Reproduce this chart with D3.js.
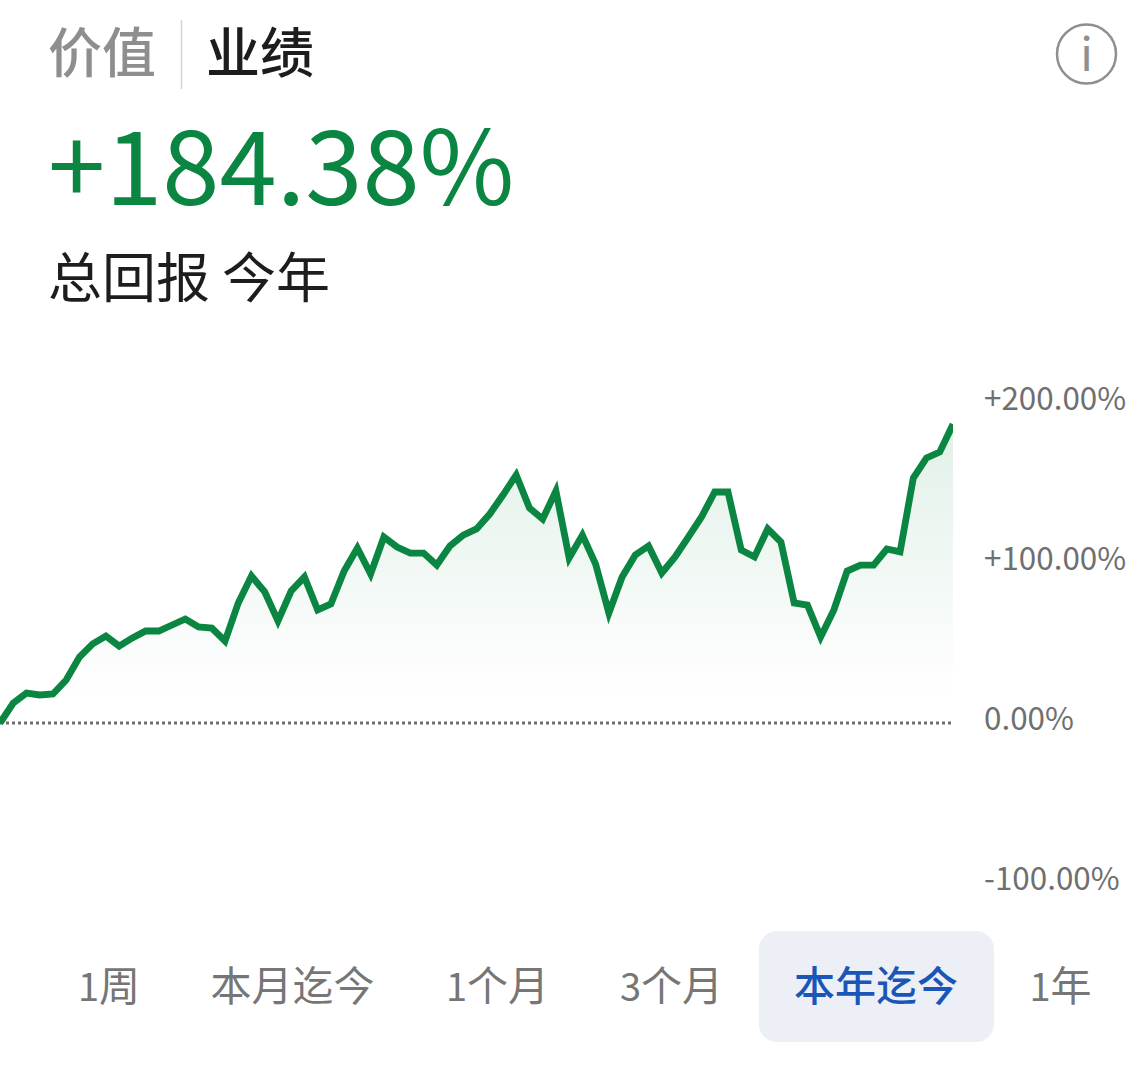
<!DOCTYPE html>
<html>
<head>
<meta charset="utf-8">
<script src="https://d3js.org/d3.v7.min.js"></script>
<style>
  html, body { margin: 0; padding: 0; background: #fff; }
  svg { display: block; }
  text { font-family: "Noto Sans CJK SC", sans-serif; }
</style>
</head>
<body>
<div id="chart"></div>
<script>
// total return per period, in percent
var returns = [0, 12.3, 18.5, 17.3, 17.9, 26.5, 40.7, 48.8, 53.7, 47.5, 52.5, 56.8, 56.8, 60.5, 64.2, 59.3, 58.6, 50.6,
  74.1, 90.7, 80.9, 63.0, 81.5, 90.1, 69.8, 73.5, 93.8, 108.0, 92.0, 114.8, 108.6, 104.9, 104.9, 97.5, 109.3, 116.0,
  119.8, 129.0, 140.7, 153.1, 132.7, 125.9, 143.2, 101.9, 116.0, 98.1, 67.9, 90.1, 103.7, 109.3, 92.6, 102.5, 114.8,
  127.2, 142.6, 142.6, 106.8, 102.5, 119.8, 111.7, 74.1, 72.8, 53.1, 69.8, 93.8, 97.5, 97.5, 107.4, 105.6, 151.2,
  163.6, 167.3, 184.38];
var yTicks = [200, 100, 0, -100];
var tabs = ["1周", "本月迄今", "1个月", "3个月", "本年迄今", "1年"];
var activeTab = "本年迄今";
var headerTabs = ["价值", "业绩"];
var totalReturn = "+184.38%";
var subtitle = "总回报 今年";

var w = 1126, h = 1078;
var green = "#0a8542";

var svg = d3.select("#chart").append("svg")
  .attr("width", w)
  .attr("height", h);

// header
svg.append("text").attr("x", 48).attr("y", 73)
  .attr("font-size", 54).attr("font-weight", 500).attr("fill", "#8e8e8e")
  .text(headerTabs[0]);
svg.append("line")
  .attr("x1", 181.5).attr("x2", 181.5).attr("y1", 20).attr("y2", 89)
  .attr("stroke", "#d4d4d4").attr("stroke-width", 1.5);
svg.append("text").attr("x", 206).attr("y", 73)
  .attr("font-size", 54).attr("font-weight", 500).attr("fill", "#1d1d1d")
  .text(headerTabs[1]);

// info icon
svg.append("circle")
  .attr("cx", 1086.5).attr("cy", 54).attr("r", 29.5)
  .attr("fill", "none").attr("stroke", "#8f8f8f").attr("stroke-width", 2.5);
svg.append("text").attr("x", 1086.5).attr("y", 71)
  .attr("text-anchor", "middle").attr("font-size", 46).attr("fill", "#8f8f8f")
  .text("i");

svg.append("text").attr("x", 48).attr("y", 205)
  .attr("font-size", 103).attr("fill", green)
  .text(totalReturn);
svg.append("text").attr("x", 48).attr("y", 298)
  .attr("font-size", 54).attr("fill", "#1d1d1d")
  .text(subtitle);

// chart
var x = d3.scaleLinear().domain([0, returns.length - 1]).range([0, 953]);
var y = d3.scaleLinear().domain([0, 200]).range([723, 399]);
// the labels in the picture sit on a slightly tighter scale than the line
var yLabels = d3.scaleLinear().domain([-100, 200]).range([879.5, 399.5]);

var grad = svg.append("defs").append("linearGradient")
  .attr("id", "fade")
  .attr("gradientUnits", "userSpaceOnUse")
  .attr("x1", 0).attr("x2", 0)
  .attr("y1", y(184.38)).attr("y2", y(15));
grad.append("stop").attr("offset", 0).attr("stop-color", green).attr("stop-opacity", 0.12);
grad.append("stop").attr("offset", 1).attr("stop-color", green).attr("stop-opacity", 0);

var area = d3.area()
  .x(function(d, i) { return x(i); })
  .y0(y(0))
  .y1(function(d) { return y(d); });

var line = d3.line()
  .x(function(d, i) { return x(i); })
  .y(function(d) { return y(d); });

svg.append("path").datum(returns)
  .attr("d", area)
  .attr("fill", "url(#fade)");

svg.append("line")
  .attr("x1", 0).attr("x2", 953)
  .attr("y1", y(0)).attr("y2", y(0))
  .attr("stroke", "#6f6f6f").attr("stroke-width", 3)
  .attr("stroke-dasharray", "3 3");

svg.append("clipPath").attr("id", "plot").append("rect")
  .attr("x", 0).attr("y", 380).attr("width", 953).attr("height", 400);

svg.append("path").datum(returns)
  .attr("d", line)
  .attr("clip-path", "url(#plot)")
  .attr("fill", "none")
  .attr("stroke", green)
  .attr("stroke-width", 6.8)
  .attr("stroke-linejoin", "miter");

var yAxis = d3.axisRight(yLabels)
  .tickValues(yTicks)
  .tickSize(0)
  .tickPadding(0)
  .tickFormat(function(d) { return (d > 0 ? "+" : "") + d.toFixed(2) + "%"; });

var axisG = svg.append("g")
  .attr("transform", "translate(984,0)")
  .call(yAxis);
axisG.select(".domain").remove();
axisG.selectAll("text")
  .attr("font-size", 31.4)
  .attr("font-family", '"Noto Sans CJK SC", sans-serif')
  .attr("fill", "#6f6f6f");

// range tabs, centres
var tabX = [109, 292.5, 497.5, 671.5, 876, 1060.5];

svg.append("rect")
  .attr("x", 759).attr("y", 931).attr("width", 235).attr("height", 111).attr("rx", 18)
  .attr("fill", "#ecf0f6");

var tabText = svg.selectAll(".tab")
  .data(tabs)
  .enter()
  .append("text")
  .attr("class", "tab")
  .attr("x", function(d, i) { return tabX[i]; })
  .attr("y", 1001)
  .attr("text-anchor", "middle")
  .attr("font-size", 41)
  .attr("font-weight", function(d) { return d === activeTab ? 500 : 400; })
  .attr("fill", function(d) { return d === activeTab ? "#1a56b8" : "#767676"; });

// the leading digit is set a little smaller than the CJK text
tabText.each(function(d) {
  var t = d3.select(this);
  var digit = /^\d/.test(d) ? d.charAt(0) : "";
  if (digit) t.append("tspan").attr("font-size", 38).text(digit);
  t.append("tspan").text(d.slice(digit.length));
});
</script>
</body>
</html>
